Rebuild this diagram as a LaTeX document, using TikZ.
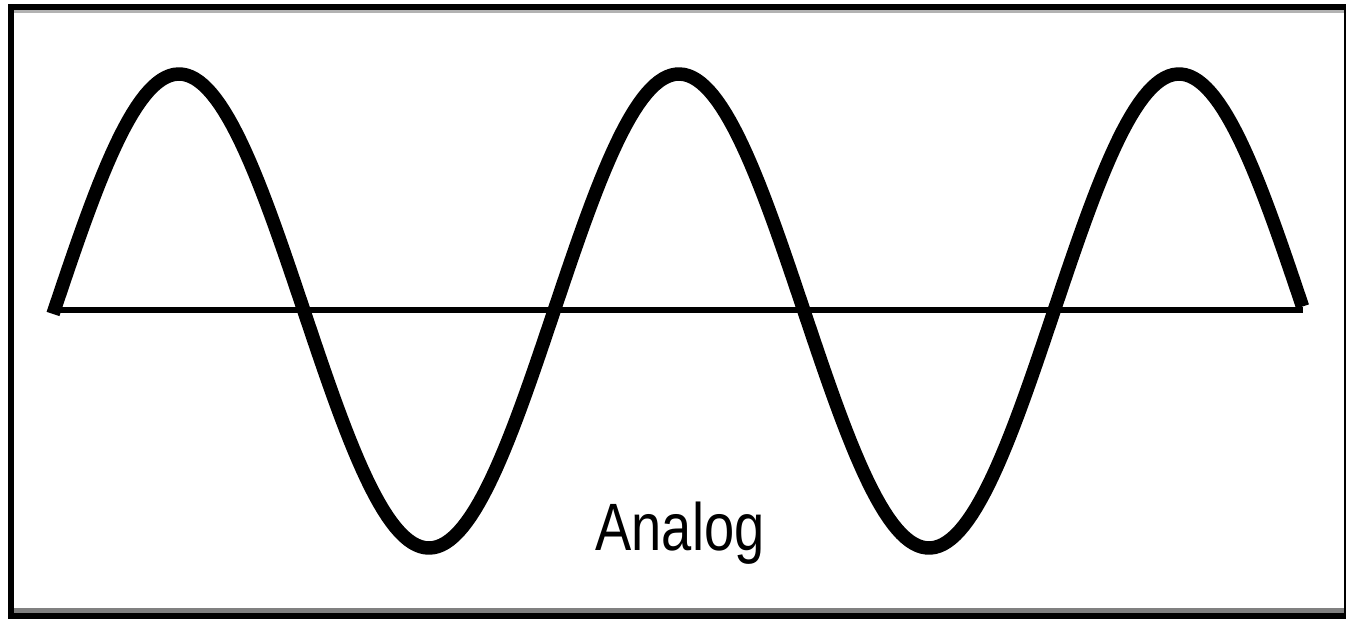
\documentclass[tikz,border=0pt]{standalone}
\usepackage{fontspec}
\setmainfont{Liberation Sans}
\tikzset{
  wave/.style={line width=13.5pt, line cap=butt, line join=round},
  axis/.style={line width=5.5pt},
  label/.style={inner sep=0pt, anchor=base, font=\fontsize{67}{80}\selectfont}
}
\begin{document}
\begin{tikzpicture}[x=1pt,y=-1pt]
\useasboundingbox (0,0) rectangle (1346,619);
\fill[white] (0,0) rectangle (1346,619);
% frame
\fill[black!30] (14,10) rectangle (1346,13);
\fill[black!50] (14,608) rectangle (1346,613);
\fill[black] (8,4) rectangle (1346,10);
\fill[black] (8,4) rectangle (14,619);
\fill[black] (8,613) rectangle (1346,619);
\fill[black] (1344,4) rectangle (1346,619);
% axis
\coordinate (a0) at (50,310);
\coordinate (a1) at (1303,310);
\draw[axis] (a0) -- (a1);
% wave
\draw[wave] plot[domain=53:1302.5, samples=300] (\x, {311 - 237*sin((\x-54)*0.72)});
% label
\node[label] (lbl) at (680,550) {\scalebox{0.81}[1]{Analog}};
\end{tikzpicture}
\end{document}
